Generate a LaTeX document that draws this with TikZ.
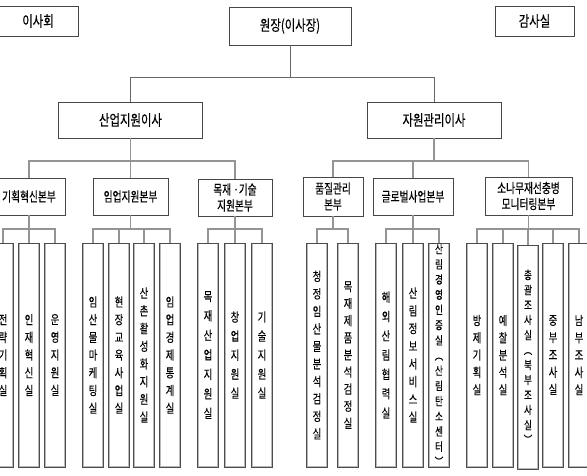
\documentclass[tikz,border=0pt]{standalone}
\usepackage{fontspec}
\newfontfamily\krA[FakeStretch=0.76,FakeBold=0.3]{Noto Sans CJK KR}
\newfontfamily\krB[FakeStretch=0.72,FakeBold=0.3]{Noto Sans CJK KR}
\newfontfamily\krC[FakeStretch=0.74,FakeBold=0.3]{Noto Sans CJK KR}
\begin{document}
\begin{tikzpicture}[x=1pt,y=-1pt]
\tikzset{
  topbox/.style={draw=black!72, line width=0.6pt, inner sep=0pt, fill=white,
    font=\krA\fontsize{15}{16}\selectfont},
  midbox/.style={draw=black!72, line width=0.6pt, inner sep=0pt, fill=white, align=center,
    minimum height=37pt, font=\krB\fontsize{13.5}{16}\selectfont},
  office/.style={draw=black!70, line width=0.6pt, inner sep=0pt, fill=white,
    minimum width=20.5pt, minimum height=224pt, align=center,
    font=\krC\fontsize{12.5}{17.7}\selectfont,
    path picture={\draw[gray!55, line width=2.6pt]
      (path picture bounding box.north west) rectangle (path picture bounding box.south east);}},
  pitch/.style={font=\krC\fontsize{12.5}{#1}\selectfont},
  pitchsmall/.style={font=\krC\fontsize{11.5}{#1}\selectfont},
  connA/.style={draw=black!60, line width=0.8pt},
  conn/.style={draw=black!42, line width=1.2pt},
}
\fill[white] (0,0) rectangle (587,475);
\useasboundingbox (0,0) rectangle (587,475);

\coordinate (b0) at (0,77);
\coordinate (b1) at (0,161);
\coordinate (b2) at (0,229);

% top level
\node[topbox, minimum width=80pt, minimum height=30pt] (isahoe) at (38,21) {이사회};
\node[topbox, minimum width=122pt, minimum height=38pt] (wj) at (290,26) {원장(이사장)};
\node[topbox, minimum width=79pt, minimum height=30pt] (gamsa) at (534.5,21) {감사실};

\node[topbox, minimum width=144pt, minimum height=36pt] (sanup) at (130.5,120) {산업지원이사};
\node[topbox, minimum width=134pt, minimum height=36pt] (jawon) at (434,120) {자원관리이사};

% divisions
\node[midbox, minimum width=72pt] (gihoek) at (29,196.5) {기획혁신본부};
\node[midbox, minimum width=75pt] (imup) at (130.5,196.5) {임업지원본부};
\node[midbox, minimum width=74pt] (mokjae) at (235,197.5) {목재 ·기술\\지원본부};
\node[midbox, minimum width=60pt, minimum height=39pt] (pumjil) at (333,196.5) {품질관리\\본부};
\node[midbox, minimum width=80pt] (global) at (413,196.5) {글로벌사업본부};
\node[midbox, minimum width=87pt, minimum height=38pt] (sonamu) at (528.5,196) {소나무재선충병\\모니터링본부};

% offices
\node[office] (o1) at (3,355) {전\\략\\기\\획\\실};
\node[office] (o2) at (29,355) {인\\재\\혁\\신\\실};
\node[office] (o3) at (55,355) {운\\영\\지\\원\\실};

\node[office] (o4) at (93,355) {임\\산\\물\\마\\케\\팅\\실};
\node[office] (o5) at (119,355) {현\\장\\교\\육\\사\\업\\실};
\node[office] (o6) at (144,355) {산\\촌\\활\\성\\화\\지\\원\\실};
\node[office] (o7) at (170,355) {임\\업\\경\\제\\통\\계\\실};

\node[office, pitch=19.5] (o8) at (208,355) {목\\재\\산\\업\\지\\원\\실};
\node[office, pitch=19] (o9) at (235,355) {창\\업\\지\\원\\실};
\node[office, pitch=19] (o10) at (262,355) {기\\술\\지\\원\\실};

\node[office, pitch=17.5] (o11) at (317,355) {청\\정\\임\\산\\물\\분\\석\\검\\정\\실};
\node[office, pitch=17.1] (o12) at (348,355) {목\\재\\제\\품\\분\\석\\검\\정\\실};

\node[office, pitch=19.3] (o13) at (386,355) {해\\외\\산\\림\\협\\력\\실};
\node[office] (o14) at (413,355) {산\\림\\정\\보\\서\\비\\스\\실};
\node[office, pitchsmall=15.2] (o15) at (439,355) {산\\림\\경\\영\\인\\증\\실\\︵\\산\\림\\탄\\소\\센\\터\\︶};

\node[office, pitch=17.3] (o16) at (477,355) {방\\제\\기\\획\\실};
\node[office, pitch=17.3] (o17) at (503,355) {예\\찰\\분\\석\\실};
\node[office, pitchsmall=15] (o18) at (528,357) {총\\괄\\조\\사\\실\\︵\\북\\부\\조\\사\\실\\︶};
\node[office, pitch=17.3] (o19) at (553,355) {중\\부\\조\\사\\실};
\node[office, pitch=17.3] (o20) at (579,355) {남\\부\\조\\사\\실};

% level 0 connectors
\draw[connA] (wj.south) -- (wj.south |- b0);
\draw[connA] (sanup.north) |- (jawon.north |- b0) -- (jawon.north);

% level 1 connectors
\draw[conn] (sanup.south) -- (sanup.south |- b1);
\draw[conn] (gihoek.north) |- (mokjae.north |- b1) -- (mokjae.north);
\draw[conn] (imup.north) -- (imup.north |- b1);
\draw[conn] (jawon.south) -- (jawon.south |- b1);
\draw[conn] (pumjil.north) |- (sonamu.north |- b1) -- (sonamu.north);
\draw[conn] (global.north) -- (global.north |- b1);

% level 2 connectors
\draw[conn] (gihoek.south) -- (gihoek.south |- b2);
\draw[conn] (o1.north) |- (o3.north |- b2) -- (o3.north);
\draw[conn] (o2.north) -- (o2.north |- b2);

\draw[conn] (imup.south) -- (imup.south |- b2);
\draw[conn] (o4.north) |- (o7.north |- b2) -- (o7.north);
\draw[conn] (o5.north) -- (o5.north |- b2);
\draw[conn] (o6.north) -- (o6.north |- b2);

\draw[conn] (mokjae.south) -- (mokjae.south |- b2);
\draw[conn] (o8.north) |- (o10.north |- b2) -- (o10.north);
\draw[conn] (o9.north) -- (o9.north |- b2);

\draw[conn] (pumjil.south) -- (pumjil.south |- b2);
\draw[conn] (o11.north) |- (o12.north |- b2) -- (o12.north);

\draw[conn] (global.south) -- (global.south |- b2);
\draw[conn] (o13.north) |- (o15.north |- b2) -- (o15.north);
\draw[conn] (o14.north) -- (o14.north |- b2);

\draw[conn] (sonamu.south) -- (sonamu.south |- b2);
\draw[conn] (o16.north) |- (o20.north |- b2) -- (o20.north);
\draw[conn] (o17.north) -- (o17.north |- b2);
\draw[conn] (o18.north) -- (o18.north |- b2);
\draw[conn] (o19.north) -- (o19.north |- b2);
\end{tikzpicture}
\end{document}
